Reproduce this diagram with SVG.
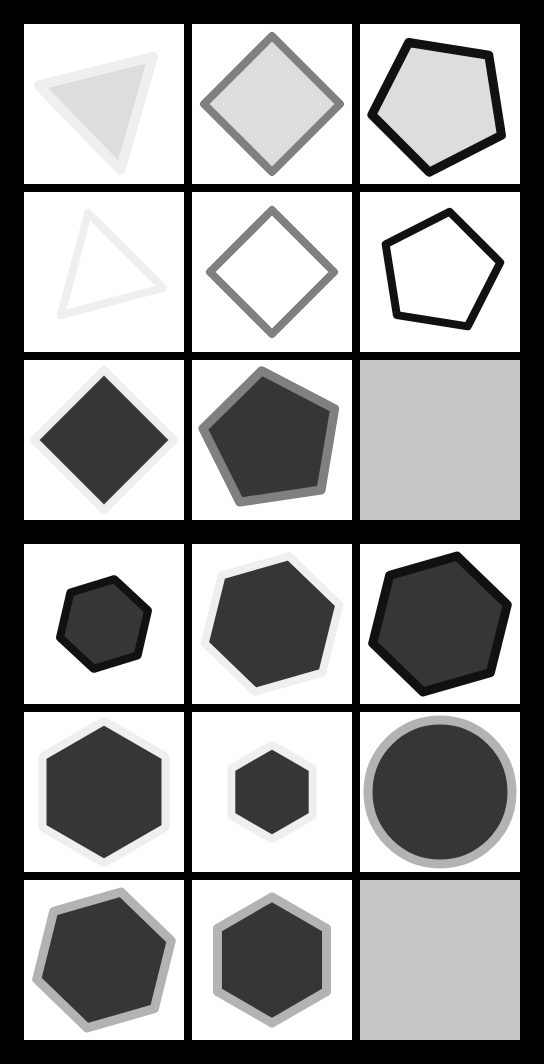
<svg xmlns="http://www.w3.org/2000/svg" width="544" height="1064" viewBox="0 0 544 1064">
<style>
.cell{fill:#ffffff}
.blank{fill:#c6c6c6}
.s{stroke-linejoin:round}
.w8{stroke-width:8}
.w9{stroke-width:9}
.w10{stroke-width:10}
.fl{fill:#dddddd}
.fn{fill:none}
.fd{fill:#363636}
.sl{stroke:#efefef}
.sm{stroke:#808080}
.sk{stroke:#111111}
.sg{stroke:#b3b3b3}
</style>
<rect x="0" y="0" width="544" height="1064" fill="#000000"/>
<g id="r1c1"><rect class="cell" x="24" y="24" width="160" height="160"/><polygon class="s w10 fl sl" points="152.91,56.76 120.45,169.98 38.63,85.26"/></g>
<g id="r1c2"><rect class="cell" x="192" y="24" width="160" height="160"/><polygon class="s w8 fl sm" points="272,36 340,104 272,172 204,104"/></g>
<g id="r1c3"><rect class="cell" x="360" y="24" width="160" height="160"/><polygon class="s w9 fl sk" points="408.67,42.52 488.79,55.21 501.48,135.33 429.21,172.15 371.85,114.79"/></g>
<g id="r2c1"><rect class="cell" x="24" y="192" width="160" height="160"/><polygon class="s w8 fn sl" points="88.21,213.08 162.92,287.79 60.87,315.13"/></g>
<g id="r2c2"><rect class="cell" x="192" y="192" width="160" height="160"/><polygon class="s w8 fn sm" points="272,210 334,272 272,334 210,272"/></g>
<g id="r2c3"><rect class="cell" x="360" y="192" width="160" height="160"/><polygon class="s w8 fn sk" points="449.54,211.75 500.25,262.46 467.69,326.35 396.87,315.13 385.65,244.31"/></g>
<g id="r3c1"><rect class="cell" x="24" y="360" width="160" height="160"/><polygon class="s w8 fd sl" points="104,370 174,440 104,510 34,440"/></g>
<g id="r3c2"><rect class="cell" x="192" y="360" width="160" height="160"/><polygon class="s w9 fd sm" points="261.65,370.77 334.64,408.77 321.06,489.93 239.68,502.09 202.96,428.45"/></g>
<g id="r3c3"><rect class="blank" x="360" y="360" width="160" height="160"/></g>
<g id="r4c1"><rect class="cell" x="24" y="544" width="160" height="160"/><polygon class="s w8 fd sk" points="114.35,579.18 147.99,610.55 137.64,655.37 93.65,668.82 60.01,637.45 70.36,592.63"/></g>
<g id="r4c2"><rect class="cell" x="192" y="544" width="160" height="160"/><polygon class="s w8 fd sl" points="288.93,556.08 339.29,604.71 322.35,672.63 255.07,691.92 204.71,643.29 221.65,575.37"/></g>
<g id="r4c3"><rect class="cell" x="360" y="544" width="160" height="160"/><polygon class="s w9 fd sk" points="456.93,556.08 507.29,604.71 490.35,672.63 423.07,691.92 372.71,643.29 389.65,575.37"/></g>
<g id="r5c1"><rect class="cell" x="24" y="712" width="160" height="160"/><polygon class="s w8 fd sl" points="104,721 165.49,756.5 165.49,827.5 104,863 42.51,827.5 42.51,756.5"/></g>
<g id="r5c2"><rect class="cell" x="192" y="712" width="160" height="160"/><polygon class="s w8 fd sl" points="272,745 312.7,768.5 312.7,815.5 272,839 231.3,815.5 231.3,768.5"/></g>
<g id="r5c3"><rect class="cell" x="360" y="712" width="160" height="160"/><circle class="w9 fd sg" cx="440" cy="792" r="72"/></g>
<g id="r6c1"><rect class="cell" x="24" y="880" width="160" height="160"/><polygon class="s w9 fd sg" points="120.93,892.08 171.29,940.71 154.35,1008.63 87.07,1027.92 36.71,979.29 53.65,911.37"/></g>
<g id="r6c2"><rect class="cell" x="192" y="880" width="160" height="160"/><polygon class="s w9 fd sg" points="272,897 326.56,928.5 326.56,991.5 272,1023 217.44,991.5 217.44,928.5"/></g>
<g id="r6c3"><rect class="blank" x="360" y="880" width="160" height="160"/></g>
<g id="connectors"/>
</svg>
